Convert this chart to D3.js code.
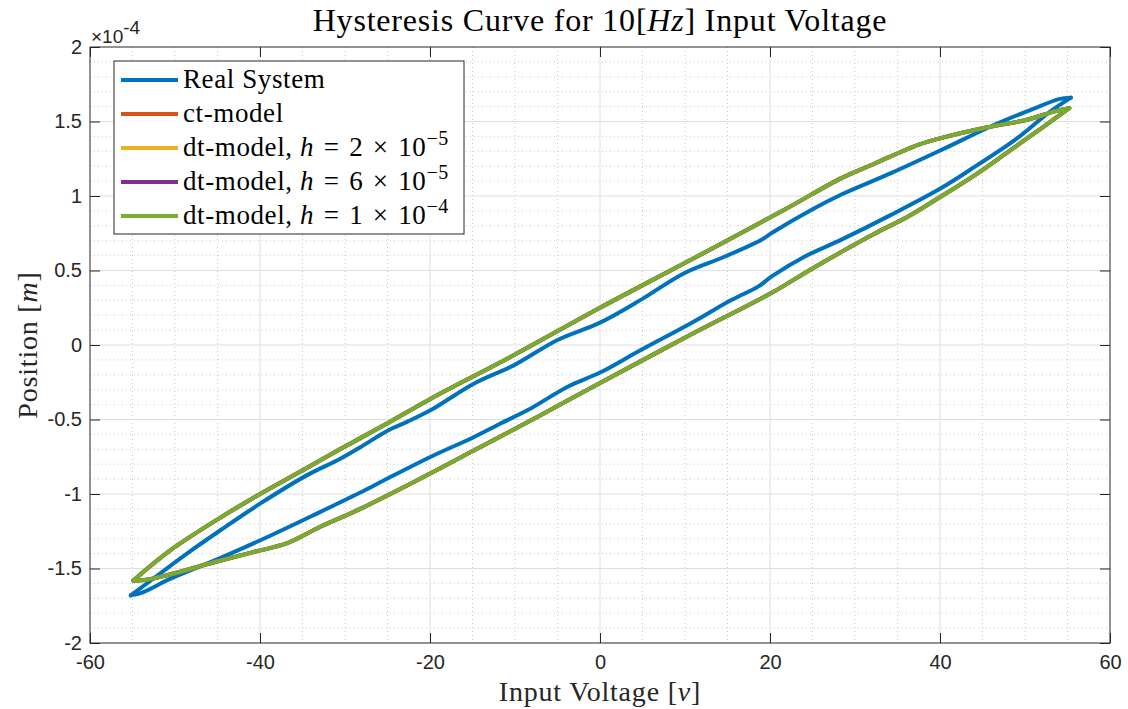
<!DOCTYPE html>
<html>
<head>
<meta charset="utf-8">
<script src="https://cdn.jsdelivr.net/npm/d3@7"></script>
<style>
  body { margin: 0; background: #fff; }
  svg { display: block; }
</style>
</head>
<body>
<svg width="1128" height="709"></svg>
<script>
// tick values (position in units of 1e-4 m)
var xTicks = [-60, -40, -20, 0, 20, 40, 60];
var yTicks = [-2, -1.5, -1, -0.5, 0, 0.5, 1, 1.5, 2];

var realUpper = [
  [-55.2, -1.68], [-52.6, -1.57], [-48.6, -1.40], [-44.7, -1.245], [-40, -1.065],
  [-34.5, -0.875], [-30.6, -0.765], [-28.2, -0.686], [-25, -0.575], [-22.7, -0.516],
  [-19.9, -0.437], [-14.8, -0.258], [-10.1, -0.135], [-5, 0.034], [0, 0.15],
  [4.8, 0.303], [9.9, 0.482], [14.7, 0.594], [19, 0.707], [20.2, 0.752],
  [24.9, 0.908], [28.4, 1.01], [34.3, 1.155], [40.2, 1.31], [46.1, 1.47],
  [51.2, 1.59], [54, 1.65], [55.4, 1.66]
];
var realLower = [
  [55.4, 1.66], [52.8, 1.56], [48.9, 1.38], [44.2, 1.2], [40.2, 1.055],
  [34.3, 0.875], [28.4, 0.707], [24.1, 0.594], [20.2, 0.46], [18.6, 0.392],
  [15.5, 0.303], [10.7, 0.146], [4.8, -0.034], [0, -0.185], [-3.8, -0.28],
  [-8.5, -0.437], [-11.7, -0.527], [-14.8, -0.617], [-19.9, -0.75], [-25.4, -0.908],
  [-28.2, -0.99], [-32.9, -1.12], [-38.8, -1.28], [-44.7, -1.43], [-50.6, -1.57],
  [-53.8, -1.66], [-55.2, -1.68]
];

// model loop (ct and dt models lie on top of each other)
var modelUpper = [
  [-54.9, -1.58], [-50.6, -1.38], [-44.7, -1.16], [-40, -1.0], [-34.5, -0.825],
  [-30.6, -0.70], [-28.2, -0.625], [-25, -0.525], [-19.9, -0.36], [-10.1, -0.067],
  [0, 0.25], [10.7, 0.572], [21.7, 0.908], [28.4, 1.12], [32.4, 1.22],
  [37.5, 1.345], [40.2, 1.39], [45.3, 1.458], [50.1, 1.51], [53.6, 1.57], [55.2, 1.59]
];
var modelLower = [
  [55.2, 1.59], [52, 1.458], [48.1, 1.30], [44.2, 1.144], [40.2, 1.0],
  [36.3, 0.864], [32.4, 0.75], [28.4, 0.625], [24, 0.48], [20.2, 0.35],
  [10.7, 0.07], [0, -0.255], [-7, -0.471], [-14.8, -0.707], [-21.5, -0.908],
  [-28.2, -1.10], [-32.9, -1.22], [-36.8, -1.33], [-40.8, -1.39], [-45.5, -1.46],
  [-50.6, -1.54], [-53.3, -1.575], [-54.9, -1.58]
];

var seriesNames = ['Real System', 'ct-model', 'dt-model, ', 'dt-model, ', 'dt-model, '];
var stepMant = [null, null, '2', '6', '1'];
var stepExp = [null, null, '\u22125', '\u22125', '\u22124'];
var colors = ['#0072BD', '#D95319', '#EDB120', '#7E2F8E', '#77AC30'];
var loops = [
  [realUpper, realLower],
  [modelUpper, modelLower],
  [modelUpper, modelLower],
  [modelUpper, modelLower],
  [modelUpper, modelLower]
];

var plotLeft = 90, plotRight = 1110, plotTop = 47, plotBottom = 643;
var serif = '"Liberation Serif", "Times New Roman", serif';
var sans = '"Liberation Sans", Arial, sans-serif';

var x = d3.scaleLinear().domain([-60, 60]).range([plotLeft, plotRight]);
var y = d3.scaleLinear().domain([-2, 2]).range([plotBottom, plotTop]);

var svg = d3.select('svg');

svg.append('defs').append('clipPath').attr('id', 'plotclip')
   .append('rect')
   .attr('x', plotLeft).attr('y', plotTop)
   .attr('width', plotRight - plotLeft).attr('height', plotBottom - plotTop);

// minor grid (dotted)
var grid = svg.append('g');
grid.selectAll('.xminor')
   .data(d3.range(-55, 60, 5).filter(function (d) { return d % 20 !== 0; }))
   .enter().append('line')
   .attr('x1', x).attr('x2', x)
   .attr('y1', plotTop).attr('y2', plotBottom)
   .attr('stroke', '#c9c9c9').attr('stroke-width', 1)
   .attr('stroke-dasharray', '1,3');
grid.selectAll('.yminor')
   .data(d3.range(-19, 20, 1).filter(function (d) { return d % 5 !== 0; }))
   .enter().append('line')
   .attr('x1', plotLeft).attr('x2', plotRight)
   .attr('y1', function (d) { return y(d / 10); })
   .attr('y2', function (d) { return y(d / 10); })
   .attr('stroke', '#c9c9c9').attr('stroke-width', 1)
   .attr('stroke-dasharray', '1,3');

// major grid
grid.selectAll('.xmajor')
   .data(xTicks.slice(1, -1))
   .enter().append('line')
   .attr('x1', x).attr('x2', x)
   .attr('y1', plotTop).attr('y2', plotBottom)
   .attr('stroke', '#dedede').attr('stroke-width', 1);
grid.selectAll('.ymajor')
   .data(yTicks.slice(1, -1))
   .enter().append('line')
   .attr('x1', plotLeft).attr('x2', plotRight)
   .attr('y1', y).attr('y2', y)
   .attr('stroke', '#dedede').attr('stroke-width', 1);

// curves
var line = d3.line()
   .x(function (d) { return x(d[0]); })
   .y(function (d) { return y(d[1]); })
   .curve(d3.curveCatmullRom.alpha(0.5));

var plot = svg.append('g').attr('clip-path', 'url(#plotclip)');
for (var i = 0; i < loops.length; i++) {
  for (var j = 0; j < 2; j++) {
    plot.append('path')
       .datum(loops[i][j])
       .attr('d', line)
       .attr('fill', 'none')
       .attr('stroke', colors[i])
       .attr('stroke-width', 4)
       .attr('stroke-linecap', 'round')
       .attr('stroke-linejoin', 'round');
  }
}

// axes with inward ticks, box on
var axisColor = '#262626';
var fmt = function (d) { return String(d); };

var gx = svg.append('g').attr('transform', 'translate(0,' + plotBottom + ')')
   .call(d3.axisBottom(x).tickValues(xTicks).tickSize(-10).tickPadding(12).tickFormat(fmt));
var gy = svg.append('g').attr('transform', 'translate(' + plotLeft + ',0)')
   .call(d3.axisLeft(y).tickValues(yTicks).tickSize(-10).tickPadding(8).tickFormat(fmt));
var gt = svg.append('g').attr('transform', 'translate(0,' + plotTop + ')')
   .call(d3.axisTop(x).tickValues(xTicks).tickSize(-10).tickFormat(''));
var gr = svg.append('g').attr('transform', 'translate(' + plotRight + ',0)')
   .call(d3.axisRight(y).tickValues(yTicks).tickSize(-10).tickFormat(''));

[gx, gy, gt, gr].forEach(function (g) {
  g.select('.domain').remove();
  g.selectAll('line').attr('stroke', axisColor).attr('stroke-width', 1);
  g.selectAll('text')
   .attr('fill', axisColor)
   .style('font-family', sans)
   .style('font-size', '20px');
});

svg.append('rect')
   .attr('x', plotLeft).attr('y', plotTop)
   .attr('width', plotRight - plotLeft).attr('height', plotBottom - plotTop)
   .attr('fill', 'none')
   .attr('stroke', axisColor).attr('stroke-width', 1);

// exponent label
var expo = svg.append('text')
   .attr('x', 91).attr('y', 43)
   .attr('fill', axisColor)
   .style('font-family', sans)
   .style('font-size', '19px');
expo.append('tspan').text('\u00d710');
expo.append('tspan').attr('dy', -9).text('-4');

// title
var title = svg.append('text')
   .attr('x', 600).attr('y', 31)
   .attr('text-anchor', 'middle')
   .attr('fill', '#000')
   .style('font-family', serif)
   .style('font-size', '32px')
   .style('letter-spacing', '0.8px');
title.append('tspan').text('Hysteresis Curve for 10[');
title.append('tspan').style('font-style', 'italic').text('Hz');
title.append('tspan').text('] Input Voltage');

// axis labels
var xl = svg.append('text')
   .attr('x', 600).attr('y', 701)
   .attr('text-anchor', 'middle')
   .attr('fill', '#262626')
   .style('font-family', serif)
   .style('font-size', '28px')
   .style('letter-spacing', '0.8px');
xl.append('tspan').text('Input Voltage [');
xl.append('tspan').style('font-style', 'italic').text('v');
xl.append('tspan').text(']');

var yl = svg.append('text')
   .attr('transform', 'translate(37,345) rotate(-90)')
   .attr('text-anchor', 'middle')
   .attr('fill', '#262626')
   .style('font-family', serif)
   .style('font-size', '28px')
   .style('letter-spacing', '0.8px');
yl.append('tspan').text('Position [');
yl.append('tspan').style('font-style', 'italic').text('m');
yl.append('tspan').text(']');

// legend
var legend = svg.append('g');
legend.append('rect')
   .attr('x', 114).attr('y', 61)
   .attr('width', 350).attr('height', 173)
   .attr('fill', '#fff')
   .attr('stroke', '#262626').attr('stroke-width', 1);

for (var k = 0; k < seriesNames.length; k++) {
  var ly = 80 + k * 34;
  legend.append('line')
     .attr('x1', 121).attr('x2', 178)
     .attr('y1', ly).attr('y2', ly)
     .attr('stroke', colors[k]).attr('stroke-width', 4);
  var t = legend.append('text')
     .attr('x', 183).attr('y', ly + 8)
     .attr('fill', '#000')
     .style('font-family', serif)
     .style('font-size', '27px')
     .style('letter-spacing', '0.6px');
  t.append('tspan').text(seriesNames[k]);
  if (stepMant[k]) {
    t.append('tspan').style('font-style', 'italic').text('h');
    t.append('tspan').text('\u2004=\u2004' + stepMant[k] + '\u2004\u00d7\u200410');
    t.append('tspan').attr('dy', -11).style('font-size', '20px').text(stepExp[k]);
  }
}
</script>
</body>
</html>
